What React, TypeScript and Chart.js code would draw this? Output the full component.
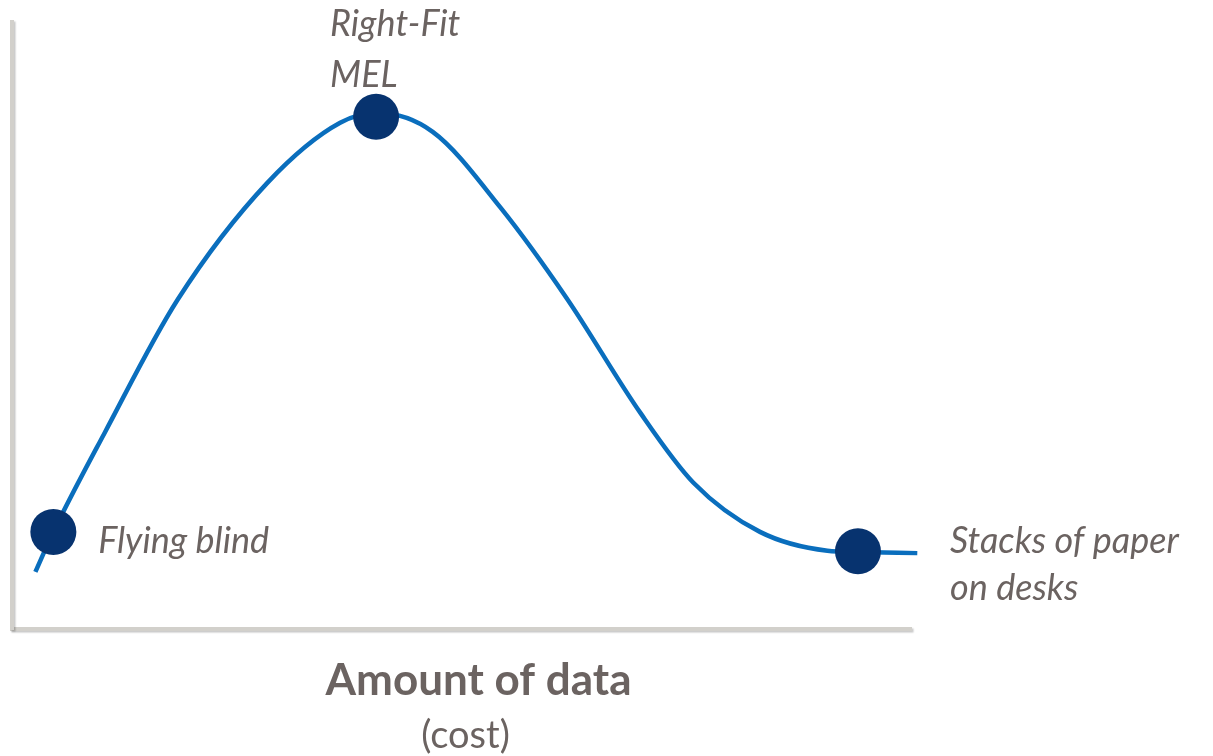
import React, { useEffect, useRef } from "react";
import { Chart, registerables } from "chart.js";

Chart.register(...registerables);

// Curve (amount of data vs. usefulness), axis range 0..100
const curveX = [2.6, 4.6, 10.3, 18.4, 28.4, 36.5, 40.7, 46.8, 54.3, 61.7, 69.9, 75.8, 83.2, 90.7, 94.1, 100.7];
const curveY = [9.4, 16.0, 32.3, 54.2, 73.5, 83.4, 85.0, 81.9, 69.5, 54.5, 35.6, 24.1, 16.0, 12.9, 12.7, 12.5];

// Highlighted points and their labels
const markerX = [4.6, 40.5, 94.1];
const markerY = [16.0, 84.4, 12.8];
const markerLabels = [["Flying blind"], ["Right-Fit", "MEL"], ["Stacks of paper", "on desks"]];

const axisTitle = "Amount of data";
const axisSubtitle = "(cost)";

const LINE_COLOR = "#0a6ebd";
const MARKER_COLOR = "#07336f";
const TEXT_COLOR = "#6b6361";
const AXIS_COLOR = "#d2d0cb";
const FONT = "Lato, 'Open Sans', sans-serif";

// label placement relative to each marker (pixels)
const labelOffsets = [
  { dx: 45, dy: 21, lh: 0 },
  { dx: -46, dy: -81, lh: 51 },
  { dx: 92, dy: 2, lh: 47 },
];

export default function App() {
  const canvasRef = useRef<HTMLCanvasElement | null>(null);

  useEffect(() => {
    const canvas = canvasRef.current;
    if (!canvas) return;

    const axisShadow = {
      id: "axisShadow",
      beforeDraw(chart: any) {
        const ctx = chart.ctx;
        ctx.save();
        ctx.shadowColor = "rgba(0,0,0,0.22)";
        ctx.shadowOffsetX = 1.5;
        ctx.shadowOffsetY = 1.5;
        ctx.shadowBlur = 1.5;
      },
      beforeDatasetsDraw(chart: any) {
        chart.ctx.restore();
      },
    };

    const labelPlugin = {
      id: "labels",
      afterDatasetsDraw(chart: any) {
        const ctx = chart.ctx;
        const meta = chart.getDatasetMeta(1);
        ctx.save();
        ctx.fillStyle = TEXT_COLOR;
        ctx.textAlign = "left";
        ctx.textBaseline = "alphabetic";
        ctx.font = `italic 36px ${FONT}`;
        meta.data.forEach((pt: any, i: number) => {
          const off = labelOffsets[i];
          markerLabels[i].forEach((line, j) => {
            ctx.fillText(line, pt.x + off.dx, pt.y + off.dy + j * off.lh);
          });
        });
        const area = chart.chartArea;
        const cx = (area.left + area.right) / 2;
        ctx.textAlign = "center";
        ctx.font = `bold 44px ${FONT}`;
        ctx.fillText(axisTitle, cx + 17, area.bottom + 66);
        ctx.font = `38px ${FONT}`;
        ctx.fillText(axisSubtitle, cx + 4, area.bottom + 119);
        ctx.restore();
      },
    };

    const hiddenAxis = (min: number, max: number) => ({
      type: "linear" as const,
      min,
      max,
      grid: { display: false, drawTicks: false },
      ticks: { display: false },
      border: { display: true, color: AXIS_COLOR, width: 4 },
    });

    const chart = new Chart(canvas, {
      type: "line",
      data: {
        datasets: [
          {
            label: "curve",
            data: curveX.map((x, i) => ({ x, y: curveY[i] })),
            borderColor: LINE_COLOR,
            borderWidth: 4.5,
            pointRadius: 0,
            cubicInterpolationMode: "monotone",
            fill: false,
            clip: false as any,
            order: 1,
          },
          {
            label: "markers",
            data: markerX.map((x, i) => ({ x, y: markerY[i] })),
            showLine: false,
            pointRadius: 23,
            pointBackgroundColor: MARKER_COLOR,
            pointBorderWidth: 0,
            borderColor: MARKER_COLOR,
            clip: false as any,
            order: 0,
          },
        ],
      },
      options: {
        animation: false,
        responsive: false,
        events: [],
        layout: { autoPadding: false, padding: { left: 12, top: 22, right: 302, bottom: 127 } },
        plugins: { legend: { display: false }, tooltip: { enabled: false } },
        scales: {
          x: hiddenAxis(0, 100),
          y: hiddenAxis(0, 100),
        },
      },
      plugins: [axisShadow, labelPlugin],
    });

    let alive = true;
    if ((document as any).fonts) {
      Promise.all([
        document.fonts.load(`italic 36px Lato`),
        document.fonts.load(`bold 44px Lato`),
        document.fonts.load(`38px Lato`),
      ]).then(() => {
        if (alive) chart.draw();
      }).catch(() => {});
    }

    return () => {
      alive = false;
      chart.destroy();
    };
  }, []);

  return (
    <div style={{ position: "fixed", left: 0, top: 0, width: 1213, height: 756, background: "#ffffff" }}>
      <canvas ref={canvasRef} width={1213} height={756} style={{ display: "block", width: 1213, height: 756 }} />
    </div>
  );
}
